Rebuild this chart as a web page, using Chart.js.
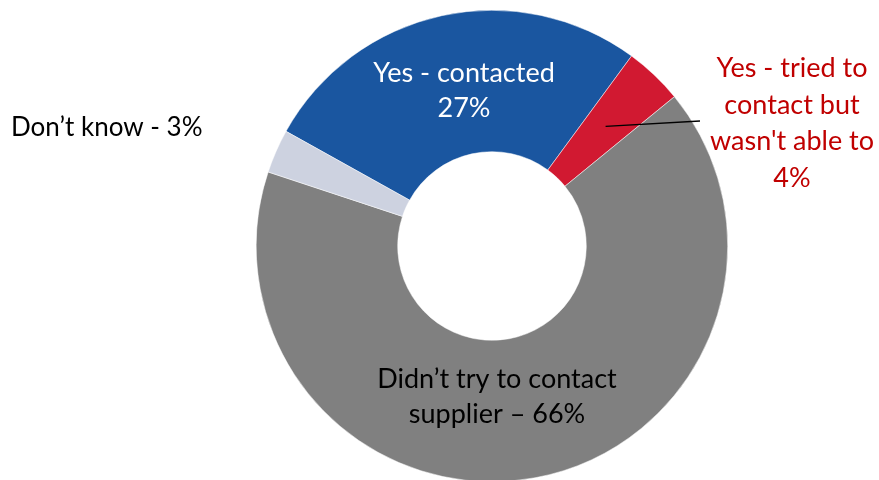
<!DOCTYPE html>
<html>
<head>
<meta charset="utf-8">
<script src="https://cdn.jsdelivr.net/npm/chart.js@4.4.1/dist/chart.umd.min.js"></script>
<style>
  html, body { margin: 0; padding: 0; background: #fff; overflow: hidden; }
  #wrap { position: relative; width: 879px; height: 492px; }
</style>
</head>
<body>
<div id="wrap"><canvas id="chart"></canvas></div>
<script>
// Survey answers and their shares (%)
const categories = [
  "Yes - contacted",
  "Yes - tried to contact but wasn't able to",
  "Didn\u2019t try to contact supplier",
  "Don\u2019t know"
];
const shares = [27, 4, 66, 3];
const sliceColors = ["#1A56A0", "#D11931", "#808080", "#CDD2E0"];

// Text lines of each slice label, built from the category and its share
const labelLines = [
  [categories[0], shares[0] + "%"],
  ["Yes - tried to", "contact but", "wasn't able to", shares[1] + "%"],
  ["Didn\u2019t try to contact", "supplier \u2013 " + shares[2] + "%"],
  [categories[3] + " - " + shares[3] + "%"]
];

// Label placement and look for each slice
const labelStyle = [
  { x: 464, y: 82, align: "center", color: "#FFFFFF", lineGap: 35, size: 27 },
  { x: 792, y: 77, align: "center", color: "#C00000", lineGap: 36.5, size: 27 },
  { x: 497, y: 388, align: "center", color: "#000000", lineGap: 35, size: 27 },
  { x: 11, y: 136, align: "left", color: "#000000", lineGap: 35, size: 26 }
];
const FONT_FAMILY = "Lato, 'Open Sans', sans-serif";

const sliceLabels = {
  id: "sliceLabels",
  afterDraw(chart) {
    const ctx = chart.ctx;
    const arcs = chart.getDatasetMeta(0).data;
    ctx.save();
    // leader line from the small red slice to its label
    const p = arcs[1].tooltipPosition();
    ctx.strokeStyle = "#000";
    ctx.lineWidth = 1.3;
    ctx.beginPath();
    ctx.moveTo(p.x, p.y);
    ctx.lineTo(700, 121);
    ctx.stroke();

    ctx.textBaseline = "alphabetic";
    labelLines.forEach((lines, i) => {
      const s = labelStyle[i];
      ctx.font = s.size + "px " + FONT_FAMILY;
      ctx.fillStyle = s.color;
      ctx.textAlign = s.align;
      lines.forEach((t, k) => ctx.fillText(t, s.x, s.y + k * s.lineGap));
    });
    ctx.restore();
  }
};

new Chart(document.getElementById("chart"), {
  type: "doughnut",
  data: {
    labels: categories,
    datasets: [{
      data: shares,
      backgroundColor: sliceColors,
      borderColor: "#FFFFFF",
      borderWidth: 0.5,
      hoverOffset: 0,
      offset: 0
    }]
  },
  options: {
    responsive: true,
    maintainAspectRatio: false,
    animation: false,
    events: [],
    rotation: -60.9,
    cutout: "40%",
    layout: { padding: { left: 105, right: 0, top: 10, bottom: 10 } },
    plugins: {
      legend: { display: false },
      tooltip: { enabled: false }
    }
  },
  plugins: [sliceLabels]
});
</script>
</body>
</html>
